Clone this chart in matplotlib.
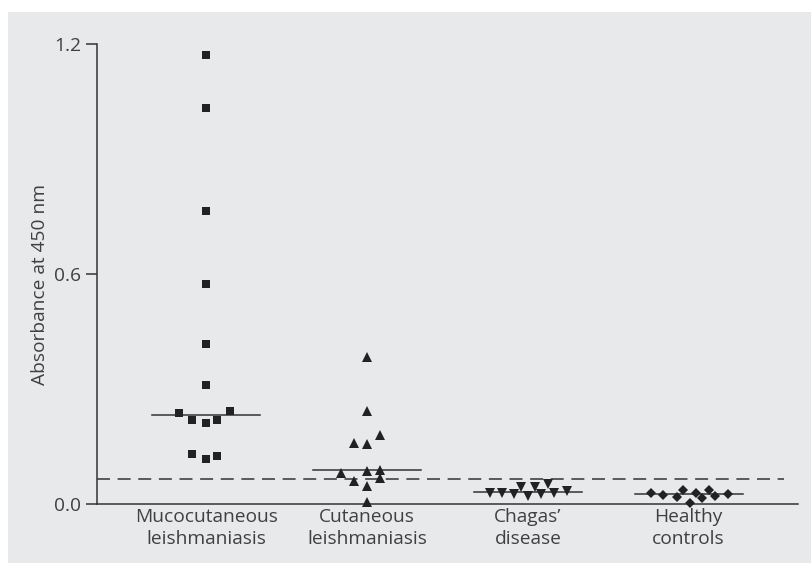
import numpy as np
import matplotlib
matplotlib.use("Agg")
import matplotlib.pyplot as plt
from matplotlib.patches import Rectangle

# group labels
groups = ["Mucocutaneous\nleishmaniasis", "Cutaneous\nleishmaniasis",
          "Chagas\u2019\ndisease", "Healthy\ncontrols"]

# absorbance values, with horizontal spread per point
muco = [1.172, 1.033, 0.765, 0.573, 0.417, 0.310, 0.237, 0.243,
        0.218, 0.211, 0.218, 0.130, 0.117, 0.125]
muco_dx = [0, 0, 0, 0, 0, 0, -0.17, 0.15, -0.087, 0, 0.066, -0.087, 0, 0.066]

cutan = [0.384, 0.243, 0.179, 0.160, 0.157, 0.080, 0.086, 0.089,
         0.059, 0.068, 0.048, 0.006]
cutan_dx = [0, 0, 0.083, -0.083, 0, -0.163, 0, 0.083, -0.083, 0.083, 0, 0]

chagas = [0.029, 0.029, 0.026, 0.044, 0.021, 0.044, 0.026, 0.052, 0.029, 0.034]
chagas_dx = [-0.236, -0.161, -0.084, -0.040, 0, 0.043, 0.081, 0.124, 0.161, 0.242]

healthy = [0.028, 0.023, 0.017, 0.037, 0.003, 0.029, 0.016, 0.037, 0.021, 0.026]
healthy_dx = [-0.236, -0.157, -0.075, -0.035, 0.008, 0.045, 0.085, 0.126, 0.166, 0.244]

medians = [0.233, 0.089, 0.031, 0.025]
cutoff = 0.065

yticks = [0.0, 0.6, 1.2]

plt.rcParams['font.family'] = ['Open Sans', 'DejaVu Sans']
ink = '#222222'
txt = '#404040'
fs = 13.8

fig = plt.figure(figsize=(8.12, 5.63), dpi=100)
fig.patch.set_facecolor('white')
fig.patches.append(Rectangle((8 / 812, 0), 1, 551 / 563, transform=fig.transFigure,
                             facecolor='#e8e9eb', edgecolor='none', zorder=-10))

ax = fig.add_axes([97 / 812, 59 / 563, 701 / 812, 460 / 563])
ax.set_facecolor('none')

series = [(muco, muco_dx, 's', 5.8), (cutan, cutan_dx, '^', 6.6),
          (chagas, chagas_dx, 'v', 6.6), (healthy, healthy_dx, 'D', 4.8)]
for i, (vals, dx, mk, ms) in enumerate(series):
    pos = i + 1 + np.array(dx)
    ax.plot(pos, vals, linestyle='none', marker=mk, markersize=ms,
            color=ink, markeredgewidth=0, clip_on=False, zorder=3)
    ax.plot([i + 1 - 0.335, i + 1 + 0.335], [medians[i], medians[i]],
            color='#333333', lw=1.1, zorder=2)

ax.plot([0.32, 4.59], [cutoff, cutoff], color='#333333', lw=1.1,
        linestyle=(0, (8.5, 5)), zorder=1)

ax.set_xlim(0.32, 4.68)
ax.set_ylim(0, 1.2)

for s in ['top', 'right']:
    ax.spines[s].set_visible(False)
for s in ['left', 'bottom']:
    ax.spines[s].set_color('#333333')
    ax.spines[s].set_linewidth(1.1)

ax.set_yticks(yticks)
ax.set_yticklabels([f"{t:.1f}" for t in yticks])
ax.tick_params(axis='y', direction='out', length=8, width=1.1, color='#333333',
               pad=3.5, labelsize=fs, labelcolor=txt)
ax.set_xticks([1, 2, 3, 4])
ax.set_xticklabels(groups, linespacing=1.3)
ax.tick_params(axis='x', length=0, pad=3, labelsize=fs, labelcolor=txt)

ax.set_ylabel("Absorbance at 450 nm", fontsize=fs, color=txt)
ax.yaxis.set_label_coords(-0.068, 0.478)

fig.savefig("out.png", dpi=100)
